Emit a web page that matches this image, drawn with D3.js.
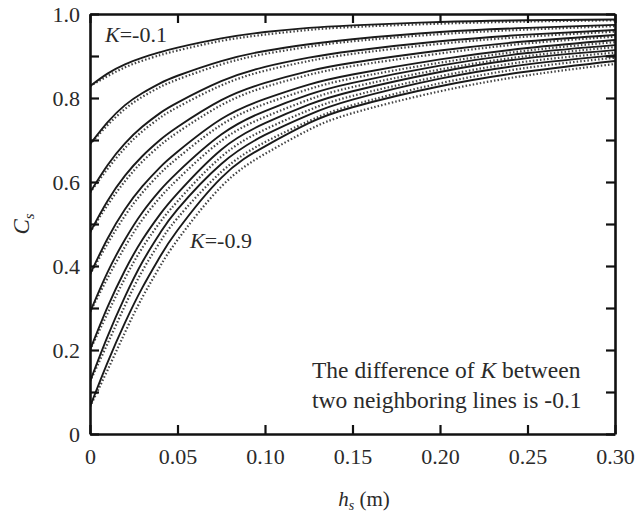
<!DOCTYPE html>
<html>
<head>
<meta charset="utf-8">
<script src="https://cdn.jsdelivr.net/npm/d3@7"></script>
<style>
  body { margin: 0; background: #fff; }
  svg { display: block; font-family: "Liberation Serif", "DejaVu Serif", serif; }
  .axis path, .axis line { stroke: #111; }
  .axis text { font-family: "Liberation Serif", serif; font-size: 22px; fill: #2a2a2a; }
</style>
</head>
<body>
<svg id="chart" width="638" height="514"></svg>
<script>
// h_s (m) sample positions shared by every curve
const hs = [0, 0.01, 0.02, 0.03, 0.04, 0.05, 0.075, 0.10, 0.125, 0.15, 0.20, 0.25, 0.30];

// K values, top curve first
const kValues = [-0.1, -0.2, -0.3, -0.4, -0.5, -0.6, -0.7, -0.8, -0.9];

// solid curves (C_s)
const solidK1 = [0.828, 0.858, 0.880, 0.896, 0.909, 0.920, 0.942, 0.957, 0.967, 0.973, 0.981, 0.985, 0.987];
const solidK2 = [0.69, 0.742, 0.783, 0.812, 0.835, 0.853, 0.888, 0.912, 0.928, 0.940, 0.957, 0.967, 0.974];
const solidK3 = [0.575, 0.64, 0.692, 0.732, 0.764, 0.789, 0.840, 0.874, 0.896, 0.912, 0.935, 0.951, 0.962];
const solidK4 = [0.48, 0.555, 0.615, 0.662, 0.700, 0.731, 0.795, 0.836, 0.864, 0.884, 0.913, 0.935, 0.950];
const solidK5 = [0.38, 0.465, 0.535, 0.59, 0.635, 0.672, 0.750, 0.798, 0.832, 0.856, 0.892, 0.919, 0.938];
const solidK6 = [0.29, 0.385, 0.463, 0.528, 0.580, 0.623, 0.713, 0.769, 0.808, 0.836, 0.877, 0.907, 0.926];
const solidK7 = [0.20, 0.302, 0.390, 0.463, 0.523, 0.573, 0.677, 0.740, 0.784, 0.816, 0.862, 0.895, 0.914];
const solidK8 = [0.125, 0.232, 0.327, 0.410, 0.478, 0.535, 0.643, 0.712, 0.760, 0.796, 0.846, 0.880, 0.902];
const solidK9 = [0.065, 0.17, 0.265, 0.349, 0.422, 0.485, 0.61, 0.685, 0.74, 0.778, 0.828, 0.863, 0.888];

// dotted companion curves, sitting just under the solid ones
const dotK1 = [0.828, 0.852, 0.873, 0.889, 0.902, 0.913, 0.936, 0.951, 0.962, 0.969, 0.977, 0.982, 0.985];
const dotK2 = [0.69, 0.735, 0.774, 0.803, 0.826, 0.844, 0.880, 0.905, 0.922, 0.935, 0.952, 0.963, 0.971];
const dotK3 = [0.575, 0.631, 0.681, 0.721, 0.753, 0.778, 0.830, 0.865, 0.888, 0.905, 0.929, 0.946, 0.958];
const dotK4 = [0.48, 0.545, 0.602, 0.649, 0.687, 0.718, 0.783, 0.826, 0.855, 0.876, 0.906, 0.930, 0.946];
const dotK5 = [0.38, 0.453, 0.520, 0.575, 0.620, 0.657, 0.736, 0.786, 0.821, 0.847, 0.884, 0.913, 0.933];
const dotK6 = [0.29, 0.371, 0.446, 0.511, 0.563, 0.606, 0.698, 0.755, 0.796, 0.826, 0.868, 0.900, 0.921];
const dotK7 = [0.20, 0.287, 0.371, 0.444, 0.504, 0.554, 0.660, 0.725, 0.771, 0.805, 0.852, 0.887, 0.908];
const dotK8 = [0.125, 0.215, 0.306, 0.389, 0.457, 0.514, 0.624, 0.695, 0.745, 0.783, 0.835, 0.872, 0.896];
const dotK9 = [0.065, 0.152, 0.242, 0.326, 0.399, 0.462, 0.589, 0.667, 0.724, 0.764, 0.816, 0.854, 0.881];

const solidSeries = [solidK1, solidK2, solidK3, solidK4, solidK5, solidK6, solidK7, solidK8, solidK9];
const dotSeries = [dotK1, dotK2, dotK3, dotK4, dotK5, dotK6, dotK7, dotK8, dotK9];

// ticks
const xTicks = [0, 0.05, 0.10, 0.15, 0.20, 0.25, 0.30];
const xTickLabels = ['0', '0.05', '0.10', '0.15', '0.20', '0.25', '0.30'];
const yTicks = [0, 0.1, 0.2, 0.3, 0.4, 0.5, 0.6, 0.7, 0.8, 0.9, 1.0];
const yTickLabels = ['0', '', '0.2', '', '0.4', '', '0.6', '', '0.8', '', '1.0'];

const margin = { top: 14, right: 23, bottom: 80, left: 90 };
const width = 638, height = 514;
const innerW = width - margin.left - margin.right;
const innerH = height - margin.top - margin.bottom;

const svg = d3.select('#chart');
const g = svg.append('g').attr('transform', `translate(${margin.left},${margin.top})`);

const x = d3.scaleLinear().domain([0, 0.30]).range([0, innerW]);
const y = d3.scaleLinear().domain([0, 1.0]).range([innerH, 0]);

g.append('clipPath').attr('id', 'plot-clip')
  .append('rect').attr('width', innerW).attr('height', innerH);

const line = d3.line()
  .x((d, i) => x(hs[i]))
  .y(d => y(d))
  .curve(d3.curveNatural);

const curves = g.append('g').attr('clip-path', 'url(#plot-clip)');

curves.selectAll('path.dot')
  .data(dotSeries)
  .join('path')
  .attr('class', 'dot')
  .attr('d', line)
  .attr('fill', 'none')
  .attr('stroke', '#444')
  .attr('stroke-width', 2.2)
  .attr('stroke-dasharray', '1.5 2.1');

curves.selectAll('path.solid')
  .data(solidSeries)
  .join('path')
  .attr('class', 'solid')
  .attr('d', line)
  .attr('fill', 'none')
  .attr('stroke', '#1a1a1a')
  .attr('stroke-width', 1.9);

// axes, ticks point inward
const tickLen = 9;
const styleAxis = sel => {
  sel.attr('class', 'axis');
  sel.select('.domain').attr('stroke-width', 2.6);
  sel.selectAll('.tick line').attr('stroke-width', 2.2);
};

g.append('g')
  .attr('transform', `translate(0,${innerH})`)
  .call(d3.axisBottom(x).tickValues(xTicks).tickFormat((d, i) => xTickLabels[i])
    .tickSizeInner(-tickLen).tickSizeOuter(0).tickPadding(14))
  .call(styleAxis);

g.append('g')
  .call(d3.axisTop(x).tickValues(xTicks).tickFormat('')
    .tickSizeInner(-tickLen).tickSizeOuter(0))
  .call(styleAxis);

g.append('g')
  .call(d3.axisLeft(y).tickValues(yTicks).tickFormat((d, i) => yTickLabels[i])
    .tickSizeInner(-tickLen).tickSizeOuter(0).tickPadding(10))
  .call(styleAxis);

g.append('g')
  .attr('transform', `translate(${innerW},0)`)
  .call(d3.axisRight(y).tickValues(yTicks).tickFormat('')
    .tickSizeInner(-tickLen).tickSizeOuter(0))
  .call(styleAxis);

// axis titles
svg.append('text')
  .attr('transform', `translate(29,${margin.top + y(0.5)}) rotate(-90)`)
  .attr('text-anchor', 'middle')
  .attr('font-size', 23)
  .attr('fill', '#2a2a2a')
  .call(t => {
    t.append('tspan').attr('font-style', 'italic').text('C');
    t.append('tspan').attr('font-style', 'italic').attr('font-size', 15).attr('dy', 5).text('s');
  });

svg.append('text')
  .attr('x', 364)
  .attr('y', 506)
  .attr('text-anchor', 'middle')
  .attr('font-size', 21)
  .attr('fill', '#2a2a2a')
  .call(t => {
    t.append('tspan').attr('font-style', 'italic').text('h');
    t.append('tspan').attr('font-style', 'italic').attr('font-size', 14).attr('dy', 4).text('s');
    t.append('tspan').attr('dy', -4).text(' (m)');
  });

// curve labels
const kLabel = (px, py, k) => {
  svg.append('text')
    .attr('x', px).attr('y', py)
    .attr('font-size', 22)
    .attr('fill', '#2a2a2a')
    .call(t => {
      t.append('tspan').attr('font-style', 'italic').text('K');
      t.append('tspan').text('=' + k);
    });
};
kLabel(105, 42, kValues[0]);
kLabel(190, 248, kValues[kValues.length - 1]);

// note in the lower right
const note = svg.append('text')
  .attr('font-size', 23.5)
  .attr('fill', '#2a2a2a');
note.append('tspan').attr('x', 312).attr('y', 378).text('The difference of ');
note.append('tspan').attr('font-style', 'italic').text('K');
note.append('tspan').text(' between');
note.append('tspan').attr('x', 312).attr('y', 408).text('two neighboring lines is -0.1');
</script>
</body>
</html>
